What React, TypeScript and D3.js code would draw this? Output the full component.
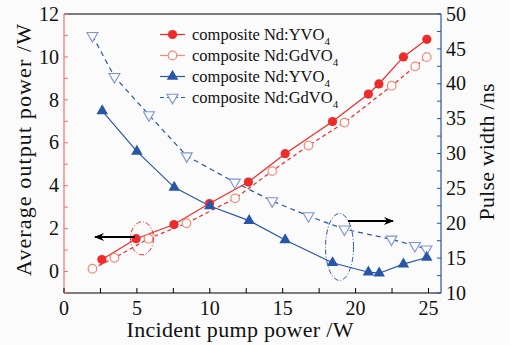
import React from "react";
import * as d3 from "d3";

const yvoPowerX = [2.6, 4.95, 7.54, 9.98, 12.65, 15.17, 18.42, 20.88, 21.6, 23.28, 24.89];
const yvoPowerY = [0.56, 1.53, 2.19, 3.17, 4.17, 5.49, 6.99, 8.27, 8.74, 10.0, 10.82];
const gdvoPowerX = [1.95, 3.46, 5.8, 8.4, 11.74, 14.28, 16.77, 19.24, 22.48, 24.09, 24.88];
const gdvoPowerY = [0.13, 0.64, 1.53, 2.25, 3.41, 4.68, 5.87, 6.94, 8.66, 9.56, 9.99];
const yvoPulseX = [2.62, 5.0, 7.56, 10.0, 12.7, 15.17, 18.42, 20.88, 21.62, 23.28, 24.88];
const yvoPulseY = [36.1, 30.3, 25.15, 22.47, 20.37, 17.6, 14.33, 12.98, 12.84, 14.13, 15.09];
const gdvoPulseX = [1.95, 3.46, 5.83, 8.42, 11.72, 14.28, 16.77, 19.24, 22.46, 24.07, 24.86];
const gdvoPulseY = [46.89, 41.01, 35.52, 29.64, 25.87, 23.19, 21.04, 19.15, 17.7, 16.78, 16.28];

const xTicks = [0, 5, 10, 15, 20, 25];
const leftTicks = [0, 2, 4, 6, 8, 10, 12];
const rightTicks = [10, 15, 20, 25, 30, 35, 40, 45, 50];
const legendNames = ["composite Nd:YV", "composite Nd:GdV", "composite Nd:YV", "composite Nd:GdV"];

const W = 510, H = 345;
const L = 64, R = 441, T = 14, B = 293;
const RED = "#ee2a2a";
const SALMON = "#f08a78";
const BLUE = "#2856a8";
const LBLUE = "#7f93d2";
const BG = "#fbfbfb";
const FONT = "Liberation Serif";

function tri(cx: number, cy: number, s: number, down: boolean) {
  const h = s * 0.866;
  if (!down) return `M${cx},${cy - (2 * h) / 3}L${cx + s / 2},${cy + h / 3}L${cx - s / 2},${cy + h / 3}Z`;
  return `M${cx},${cy + (2 * h) / 3}L${cx + s / 2},${cy - h / 3}L${cx - s / 2},${cy - h / 3}Z`;
}

export default function App() {
  const x = d3.scaleLinear().domain([0, 25.86]).range([L, R]);
  const yL = d3.scaleLinear().domain([-1, 12]).range([B, T]);
  const yR = d3.scaleLinear().domain([10, 50]).range([B, T]);
  const line = d3.line<[number, number]>();

  const pts = (xs: number[], ys: number[], sc: d3.ScaleLinear<number, number>) =>
    xs.map((v, i) => [x(v), sc(ys[i])] as [number, number]);

  const p1 = pts(yvoPowerX, yvoPowerY, yL);
  const p2 = pts(gdvoPowerX, gdvoPowerY, yL);
  const p3 = pts(yvoPulseX, yvoPulseY, yR);
  const p4 = pts(gdvoPulseX, gdvoPulseY, yR);

  const xMinor = d3.range(0, 26, 2.5);
  const lMinor = d3.range(-1, 12.01, 1);
  const rMinor = d3.range(10, 50.01, 2.5);

  const legend = [
    { color: RED, dash: "", kind: "fc" },
    { color: SALMON, dash: "", kind: "oc" },
    { color: BLUE, dash: "", kind: "ft" },
    { color: BLUE, dash: "4,3", kind: "ot" },
  ];
  const legY = [34.5, 55.5, 76.5, 97.5];
  const ts = { fontFamily: FONT };

  return (
    <svg width={W} height={H} style={{ position: "absolute", left: 0, top: 0, background: BG }}>
      <defs>
        <marker id="ah" viewBox="0 0 10 10" refX="9" refY="5" markerWidth="10" markerHeight="10" orient="auto-start-reverse" markerUnits="userSpaceOnUse">
          <path d="M0,1 L10,5 L0,9 L3,5 Z" fill="#000" />
        </marker>
      </defs>
      {/* axes frame */}
      <line x1={L} x2={R} y1={T} y2={T} stroke="#000" strokeWidth={1.2} />
      <line x1={L} x2={R} y1={B} y2={B} stroke="#000" strokeWidth={1.2} />
      <line x1={L} x2={L} y1={T} y2={B} stroke="#f07070" strokeWidth={1.2} />
      <line x1={R} x2={R} y1={T} y2={B} stroke={BLUE} strokeWidth={1.2} />
      {xMinor.map((v) => (
        <line key={"xt" + v} x1={x(v)} x2={x(v)} y1={B} y2={B - 5} stroke="#000" strokeWidth={1} />
      ))}
      {lMinor.map((v) => (
        <line key={"lt" + v} x1={L} x2={L + 4} y1={yL(v)} y2={yL(v)} stroke="#f07070" strokeWidth={1} />
      ))}
      {rMinor.map((v) => (
        <line key={"rt" + v} x1={R} x2={R - 4} y1={yR(v)} y2={yR(v)} stroke={BLUE} strokeWidth={1} />
      ))}
      {xTicks.map((v) => (
        <text key={"xl" + v} style={ts} x={x(v)} y={315} textAnchor="middle" fontSize={20} fill="#111">{v}</text>
      ))}
      {leftTicks.map((v) => (
        <text key={"ll" + v} style={ts} x={59} y={yL(v) + 6.7} textAnchor="end" fontSize={20} fill="#111">{v}</text>
      ))}
      {rightTicks.map((v) => (
        <text key={"rl" + v} style={ts} x={446} y={yR(v) + 6.7} textAnchor="start" fontSize={20} fill="#111">{v}</text>
      ))}
      <text style={ts} x={240} y={337} textAnchor="middle" fontSize={22} fill="#111" textLength={227}>Incident pump power /W</text>
      <text style={ts} transform={`translate(31,150) rotate(-90)`} textAnchor="middle" fontSize={22} fill="#111" textLength={252}>Average output power /W</text>
      <text style={ts} transform={`translate(494,152) rotate(-90)`} textAnchor="middle" fontSize={22} fill="#111" textLength={137}>Pulse width /ns</text>

      {/* series lines */}
      <path d={line(p1) || ""} fill="none" stroke={RED} strokeWidth={1.2} />
      <path d={line(p2) || ""} fill="none" stroke={RED} strokeWidth={1.2} strokeDasharray="4,3" />
      <path d={line(p3) || ""} fill="none" stroke={BLUE} strokeWidth={1.2} />
      <path d={line(p4) || ""} fill="none" stroke={BLUE} strokeWidth={1.2} strokeDasharray="5,4" />

      {p2.map(([a, b], i) => (
        <circle key={"c2" + i} cx={a} cy={b} r={4.3} fill={BG} stroke={SALMON} strokeWidth={1.2} />
      ))}
      {p1.map(([a, b], i) => (
        <circle key={"c1" + i} cx={a} cy={b} r={4.6} fill={RED} />
      ))}
      {p4.map(([a, b], i) => (
        <path key={"t4" + i} d={tri(a, b, 11, true)} fill={BG} stroke={LBLUE} strokeWidth={1.1} />
      ))}
      {p3.map(([a, b], i) => (
        <path key={"t3" + i} d={tri(a, b, 11.5, false)} fill={BLUE} />
      ))}

      {/* annotations */}
      <ellipse cx={x(5.35)} cy={yL(1.55)} rx={11.5} ry={16.5} fill="none" stroke={RED} strokeWidth={1} strokeDasharray="5,2,1,2" />
      <line x1={135} x2={95} y1={237} y2={237} stroke="#000" strokeWidth={2} markerEnd="url(#ah)" />
      <ellipse cx={x(18.9)} cy={yR(16.6)} rx={14} ry={33.5} fill="none" stroke={BLUE} strokeWidth={1} strokeDasharray="5,2,1,2" />
      <line x1={348} x2={393} y1={221} y2={221} stroke="#000" strokeWidth={2} markerEnd="url(#ah)" />

      {/* legend */}
      {legend.map((g, i) => {
        const cy = legY[i];
        return (
          <g key={"lg" + i}>
            <line x1={160} x2={185} y1={cy} y2={cy} stroke={g.color} strokeWidth={1.2} strokeDasharray={g.dash} />
            {g.kind === "fc" && <circle cx={172.5} cy={cy} r={4.6} fill={RED} />}
            {g.kind === "oc" && <circle cx={172.5} cy={cy} r={4.3} fill={BG} stroke={SALMON} strokeWidth={1.2} />}
            {g.kind === "ft" && <path d={tri(172.5, cy, 11.5, false)} fill={BLUE} />}
            {g.kind === "ot" && <path d={tri(172.5, cy, 11, true)} fill={BG} stroke={LBLUE} strokeWidth={1.1} />}
            <text style={ts} x={192} y={cy + 5} fontSize={16.5} fill="#111">
              {legendNames[i]}O<tspan dy={5} fontSize={11}>4</tspan>
            </text>
          </g>
        );
      })}
    </svg>
  );
}
